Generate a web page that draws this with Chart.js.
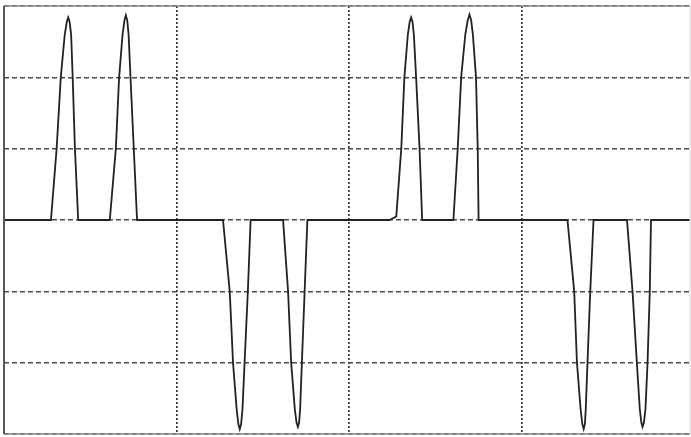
<!DOCTYPE html>
<html lang="en">
<head>
    <meta charset="UTF-8">
    <title>Pulse waveform</title>
    <script src="https://cdn.jsdelivr.net/npm/chart.js"></script>
    <style>
        html, body {
            margin: 0;
            padding: 0;
            background: #ffffff;
        }
        #wave {
            display: block;
        }
    </style>
</head>
<body>

<canvas id="wave" width="691" height="437"></canvas>

<script>
    // time (ms) and amplitude
    const tempo = [
        0,
        2.72, 3.05, 3.29, 3.52, 3.64, 3.72, 3.80, 3.89, 3.98, 4.11, 4.30,
        6.13, 6.48, 6.67, 6.87, 6.98, 7.06, 7.14, 7.22, 7.33, 7.52, 7.71,
        12.69, 13.08, 13.27, 13.48, 13.58, 13.66, 13.74, 13.82, 13.94, 14.13, 14.29,
        16.17, 16.46, 16.64, 16.85, 16.95, 17.03, 17.10, 17.16, 17.26, 17.42, 17.58,
        22.34, 22.73, 23.02, 23.20, 23.40, 23.51, 23.59, 23.67, 23.75, 23.88, 24.08, 24.23,
        26.04, 26.29, 26.49, 26.73, 26.87, 26.97, 27.07, 27.17, 27.35, 27.45, 27.50,
        32.65, 33.04, 33.20, 33.41, 33.51, 33.59, 33.66, 33.71, 33.81, 33.97, 34.16,
        36.10, 36.42, 36.67, 36.84, 36.93, 37.00, 37.08, 37.17, 37.29, 37.42, 37.49,
        39.75
    ];
    const amplitude = [
        0,
        0, 1, 2, 2.6, 2.78, 2.84, 2.78, 2.6, 2, 1, 0,
        0, 1, 2, 2.6, 2.8, 2.87, 2.8, 2.6, 2, 1, 0,
        0, -1, -2, -2.65, -2.86, -2.93, -2.86, -2.65, -2, -1, 0,
        0, -1, -2, -2.65, -2.84, -2.9, -2.84, -2.65, -2, -1, 0,
        0, 0.05, 1, 2, 2.6, 2.78, 2.84, 2.78, 2.6, 2, 1, 0,
        0, 1, 2, 2.6, 2.8, 2.88, 2.8, 2.6, 2, 1, 0,
        0, -1, -2, -2.65, -2.86, -2.93, -2.86, -2.65, -2, -1, 0,
        0, -1, -2, -2.65, -2.84, -2.9, -2.84, -2.65, -2, -1, 0,
        0
    ];
    const xTicks = [0, 10, 20, 30];
    const yTicks = [-3, -2, -1, 0, 1, 2, 3];

    const pontos = tempo.map((t, i) => ({ x: t, y: amplitude[i] }));

    // solid frame around the plot area
    const moldura = {
        id: 'moldura',
        afterDraw(chart) {
            const { ctx, chartArea: a } = chart;
            ctx.save();
            ctx.lineWidth = 1.6;
            ctx.strokeStyle = '#8a8a8a';
            ctx.beginPath();
            ctx.moveTo(a.left, a.top);
            ctx.lineTo(a.right, a.top);
            ctx.moveTo(a.left, a.bottom);
            ctx.lineTo(a.right, a.bottom);
            ctx.stroke();
            ctx.strokeStyle = '#d4d4d4';
            ctx.lineWidth = 1;
            ctx.beginPath();
            ctx.moveTo(a.right, a.top);
            ctx.lineTo(a.right, a.bottom);
            ctx.stroke();
            ctx.strokeStyle = '#555555';
            ctx.lineWidth = 2;
            ctx.beginPath();
            ctx.moveTo(a.left, a.top);
            ctx.lineTo(a.left, a.bottom);
            ctx.stroke();
            ctx.restore();
        }
    };

    const ctx = document.getElementById('wave').getContext('2d');
    new Chart(ctx, {
        type: 'line',
        data: {
            datasets: [{
                data: pontos,
                borderColor: '#222222',
                borderWidth: 1.8,
                pointRadius: 0,
                fill: false,
                tension: 0
            }]
        },
        options: {
            responsive: false,
            animation: false,
            layout: {
                padding: { left: 4, top: 6, right: 1, bottom: 3 }
            },
            plugins: {
                legend: { display: false },
                tooltip: { enabled: false }
            },
            scales: {
                x: {
                    type: 'linear',
                    min: 0,
                    max: 39.75,
                    afterBuildTicks: axis => { axis.ticks = xTicks.map(v => ({ value: v })); },
                    ticks: { display: false },
                    grid: {
                        color: '#333333',
                        lineWidth: 1.7,
                        drawTicks: false
                    },
                    border: { display: false, dash: [2, 2] }
                },
                y: {
                    min: -3,
                    max: 3,
                    afterBuildTicks: axis => { axis.ticks = yTicks.map(v => ({ value: v })); },
                    ticks: { display: false },
                    grid: {
                        color: '#4a4a4a',
                        lineWidth: 1.5,
                        drawTicks: false
                    },
                    border: { display: false, dash: [5, 3] }
                }
            }
        },
        plugins: [moldura]
    });
</script>

</body>
</html>
